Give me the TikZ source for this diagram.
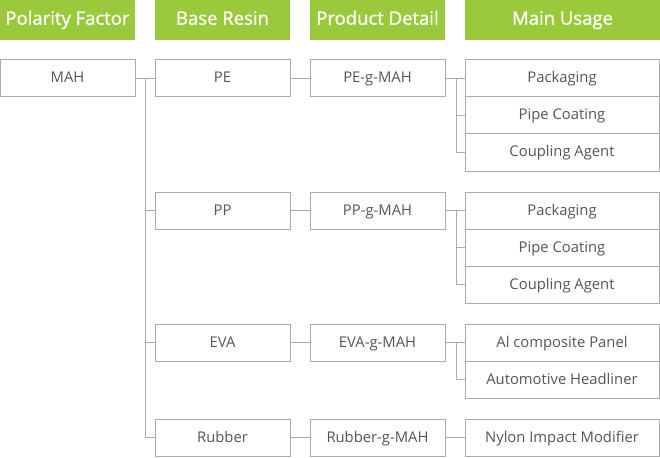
\documentclass[tikz,border=0pt]{standalone}
\usepackage{fontspec}
\setmainfont{Open Sans}
\usetikzlibrary{positioning}
\definecolor{headgreen}{HTML}{9BC93C}
\definecolor{linegray}{HTML}{ABABAB}
\definecolor{textgray}{HTML}{555555}

\begin{document}
\begin{tikzpicture}
	[x=1pt, y=-1pt, on grid,
	 head/.style={fill=headgreen, text=white, minimum width=135pt, minimum height=40pt, inner sep=0pt, text height=13.5pt, text depth=4pt, font=\fontsize{18.5}{20}\selectfont\addfontfeature{FakeBold=1}},
	 item/.style={draw=linegray, line width=1pt, text=textgray, minimum width=135pt, minimum height=37pt, inner sep=0pt, text height=11pt, text depth=2pt, font=\fontsize{14.8}{16}\selectfont},
	 usebox/.style={item, minimum width=194pt},
	 conn/.style={draw=linegray, line width=1pt}]
   \useasboundingbox (0,0) rectangle (660,457);
   % headers
   \node[head] (h_pol) at (67.5,20) {Polarity Factor};
   \node[head] (h_res) [right=155pt of h_pol] {Base Resin};
   \node[head] (h_det) [right=155pt of h_res] {Product Detail};
   \node[head, minimum width=195pt] (h_use) [right=185pt of h_det] {Main Usage};
   % polarity factor and base resins
   \node[item] (mah) at (67.5,78.5) {MAH};
   \node[item] (pe) at (222.5,78.5) {PE};
   \node[item] (pp) at (222.5,210.5) {PP};
   \node[item] (eva) at (222.5,342.5) {EVA};
   \node[item] (rub) at (222.5,437.5) {Rubber};
   % product details
   \node[item] (pe_g) [right=155pt of pe] {PE-g-MAH};
   \node[item] (pp_g) [right=155pt of pp] {PP-g-MAH};
   \node[item] (eva_g) [right=155pt of eva] {EVA-g-MAH};
   \node[item] (rub_g) [right=155pt of rub] {Rubber-g-MAH};
   % main usages
   \node[usebox] (pe_u1) [right=184.5pt of pe_g] {Packaging};
   \node[usebox] (pe_u2) [below=37pt of pe_u1] {Pipe Coating};
   \node[usebox] (pe_u3) [below=37pt of pe_u2] {Coupling Agent};
   \node[usebox] (pp_u1) [right=184.5pt of pp_g] {Packaging};
   \node[usebox] (pp_u2) [below=37pt of pp_u1] {Pipe Coating};
   \node[usebox] (pp_u3) [below=37pt of pp_u2] {Coupling Agent};
   \node[usebox] (eva_u1) [right=184.5pt of eva_g] {Al composite Panel};
   \node[usebox] (eva_u2) [below=37pt of eva_u1] {Automotive Headliner};
   \node[usebox] (rub_u1) [right=184.5pt of rub_g] {Nylon Impact Modifier};
   % branch points
   \coordinate[right=10pt of mah.east] (trunk);
   \coordinate[right=11pt of pe_g.east] (pe_br);
   \coordinate[right=11pt of pp_g.east] (pp_br);
   \coordinate[right=11pt of eva_g.east] (eva_br);
   \path[conn]
    (mah) -- (pe)
    (trunk) |- (pp)
    (trunk) |- (eva)
    (trunk) |- (rub)
    (pe) -- (pe_g)
    (pp) -- (pp_g)
    (eva) -- (eva_g)
    (rub) -- (rub_g)
    (pe_g) -- (pe_u1)
    (pe_br) |- (pe_u2)
    (pe_br) |- (pe_u3)
    (pp_g) -- (pp_u1)
    (pp_br) |- (pp_u2)
    (pp_br) |- (pp_u3)
    (eva_g) -- (eva_u1)
    (eva_br) |- (eva_u2)
    (rub_g) -- (rub_u1);
\end{tikzpicture}
\end{document}
